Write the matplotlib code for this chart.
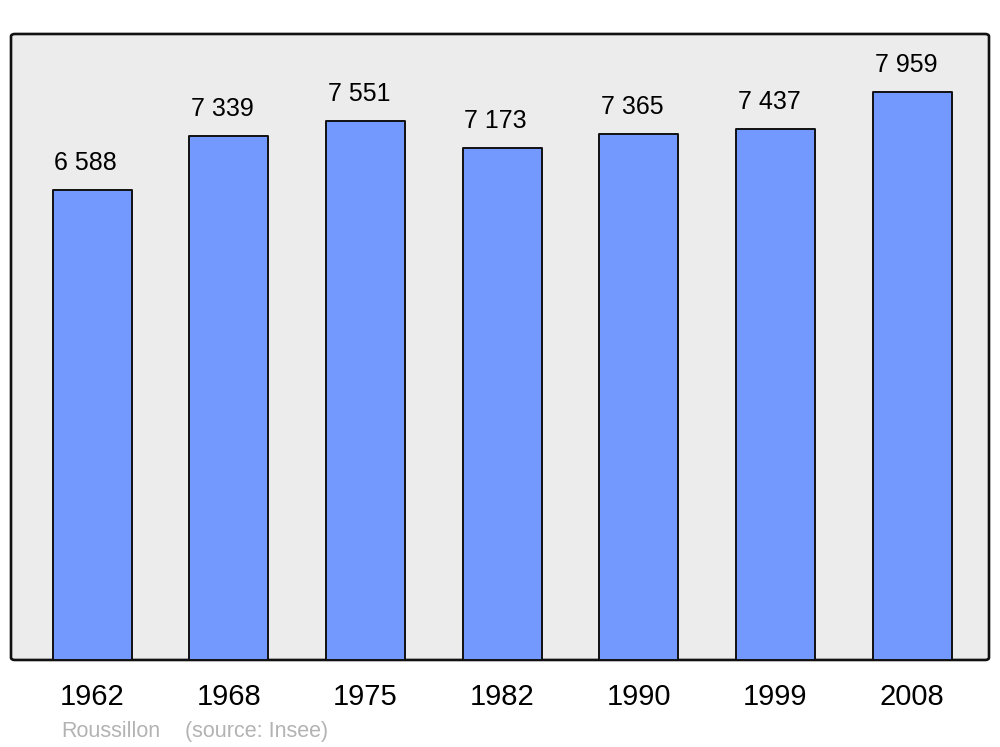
import matplotlib
matplotlib.use("Agg")
import matplotlib.pyplot as plt
from matplotlib.patches import FancyBboxPatch

years = ["1962", "1968", "1975", "1982", "1990", "1999", "2008"]
population = [6588, 7339, 7551, 7173, 7365, 7437, 7959]
value_labels = ["6 588", "7 339", "7 551", "7 173", "7 365", "7 437", "7 959"]
footer_name = "Roussillon"
footer_source = "(source: Insee)"

plt.rcParams['font.family'] = ['Liberation Sans', 'DejaVu Sans']

fig = plt.figure(figsize=(10, 7.47), dpi=100)
ax = fig.add_axes([0.011, 0.1165, 0.978, 0.838])
ax.set_facecolor('none')

bg = FancyBboxPatch((0, 0), 1, 1, boxstyle="round,pad=0,rounding_size=0.004",
                    transform=ax.transAxes, facecolor='#ececec', edgecolor='#111111',
                    linewidth=1.9, zorder=0, clip_on=False)
ax.add_patch(bg)

x = list(range(len(years)))
bars = ax.bar(x, population, width=0.578, color='#7399ff', edgecolor='#111111',
              linewidth=1.4, zorder=2)
for b in bars:
    b.set_joinstyle('round')

for xi, v, lab in zip(x, population, value_labels):
    ax.annotate(lab, (xi, v), xytext=(-4.5, 14.3), textcoords='offset points',
                ha='center', va='baseline', fontsize=18, color='black')

ax.set_xlim(-0.593, 6.563)
ax.set_ylim(0, 8768)
ax.set_xticks(x)
ax.set_xticklabels(years, fontsize=21)
ax.tick_params(axis='x', length=0, pad=16.3)
ax.set_yticks([])
for s in ax.spines.values():
    s.set_visible(False)

fig.text(0.061, 1 - 737/747, footer_name, fontsize=15.5, color='#b3b3b3', va='baseline', ha='left')
fig.text(0.185, 1 - 737/747, footer_source, fontsize=15.5, color='#b3b3b3', va='baseline', ha='left')

fig.savefig('out.png', dpi=100)
